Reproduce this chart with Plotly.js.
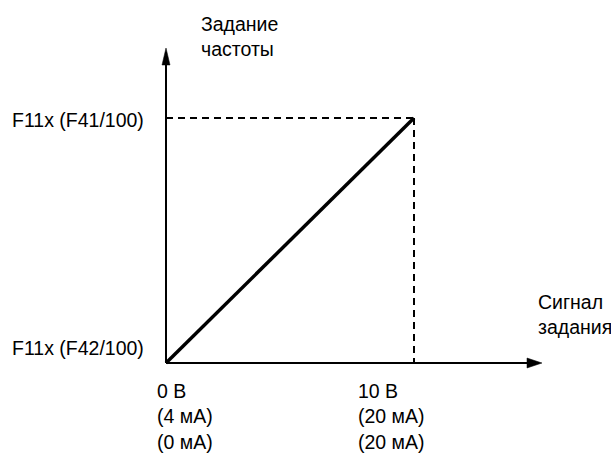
<!DOCTYPE html>
<html>
<head>
<meta charset="utf-8">
<script src="https://cdn.plot.ly/plotly-3.0.1.min.js"></script>
<style>html,body{margin:0;padding:0;background:#fff;}#chart{width:611px;height:456px;}</style>
</head>
<body>
<div id="chart"></div>
<script>
// Data (signal in V, output normalised: 0 = F42 level, 1 = F41 level)
const signalX = [0, 10];
const outputY = [0, 1];
const xTickLabels = ["0 В<br>(4 мА)<br>(0 мА)", "10 В<br>(20 мА)<br>(20 мА)"];
const yTickLabels = ["F11x (F42/100)", "F11x (F41/100)"];
const yTitle = "Задание<br>частоты";
const xTitle = "Сигнал<br>задания";

// Pixel geometry
const W = 611, H = 456;
const M = {l: 116, r: 49, t: 44, b: 69};
const ox = 166, oy = 363;           // origin pixel
const pxX = 24.8, pxY = 245;        // pixels per unit
const xd = px => (px - ox) / pxX;
const yd = py => (oy - py) / pxY;
const plotW = W - M.l - M.r, plotH = H - M.t - M.b;
const xp = px => (px - M.l) / plotW;
const yp = py => (H - M.b - py) / plotH;
const xr = [xd(M.l), xd(M.l + plotW)];
const yr = [yd(M.t + plotH), yd(M.t)];

const FONT = {family: "Liberation Sans, Arial, sans-serif", size: 19.5, color: "#000"};

// axis arrow geometry
const yTip = yd(48), yBase = yd(65), yHalf = 4 / pxX;
const xTip = xd(542), xBase = xd(527), xHalf = 5 / pxY;

const traces = [
  {x: [signalX[0], signalX[1]], y: [outputY[1], outputY[1]], mode: "lines",
   line: {color: "#000", width: 2, dash: "7px,5px"}, hoverinfo: "skip"},
  {x: [signalX[1], signalX[1]], y: [outputY[1], outputY[0]], mode: "lines",
   line: {color: "#000", width: 2, dash: "7px,5px"}, hoverinfo: "skip"},
  {x: signalX, y: outputY, mode: "lines",
   line: {color: "#000", width: 3.5}, hoverinfo: "skip"}
];

const shapes = [
  {type: "line", xref: "x", yref: "y", x0: 0, y0: 0, x1: 0, y1: yBase + 0.01, line: {color: "#000", width: 2}},
  {type: "line", xref: "x", yref: "y", x0: 0, y0: 0, x1: xBase + 0.1, y1: 0, line: {color: "#000", width: 2}},
  {type: "path", xref: "x", yref: "y",
   path: `M ${-yHalf} ${yBase} L 0 ${yTip} L ${yHalf} ${yBase} Z`,
   fillcolor: "#000", line: {color: "#000", width: 0.5}},
  {type: "path", xref: "x", yref: "y",
   path: `M ${xBase} ${-xHalf} L ${xTip} 0 L ${xBase} ${xHalf} Z`,
   fillcolor: "#000", line: {color: "#000", width: 0.5}}
];

const ann = [];
// y tick labels
ann.push({x: 0, y: outputY[1], xref: "x", yref: "y", text: yTickLabels[1], showarrow: false,
  xanchor: "right", yanchor: "middle", xshift: -20, yshift: -2, font: FONT});
ann.push({x: 0, y: outputY[0], xref: "x", yref: "y", text: yTickLabels[0], showarrow: false,
  xanchor: "right", yanchor: "middle", xshift: -20, yshift: 15.5, font: FONT});
// x tick labels
ann.push({x: signalX[0], y: 0, xref: "x", yref: "y", text: xTickLabels[0], showarrow: false,
  xanchor: "left", yanchor: "top", align: "left", xshift: -11, yshift: -14.5, font: FONT});
ann.push({x: signalX[1], y: 0, xref: "x", yref: "y", text: xTickLabels[1], showarrow: false,
  xanchor: "left", yanchor: "top", align: "left", xshift: -58, yshift: -14.5, font: FONT});
// axis titles
ann.push({x: xp(199), y: yp(11), xref: "paper", yref: "paper", text: yTitle, showarrow: false,
  xanchor: "left", yanchor: "top", align: "left", font: FONT});
ann.push({x: xp(536), y: yp(289), xref: "paper", yref: "paper", text: xTitle, showarrow: false,
  xanchor: "left", yanchor: "top", align: "left", font: FONT});

const layout = {
  width: W, height: H,
  margin: M,
  paper_bgcolor: "#fff", plot_bgcolor: "#fff",
  showlegend: false,
  xaxis: {range: xr, visible: false, fixedrange: true},
  yaxis: {range: yr, visible: false, fixedrange: true},
  shapes: shapes,
  annotations: ann
};

Plotly.newPlot("chart", traces, layout, {staticPlot: true, displayModeBar: false});
</script>
</body>
</html>
